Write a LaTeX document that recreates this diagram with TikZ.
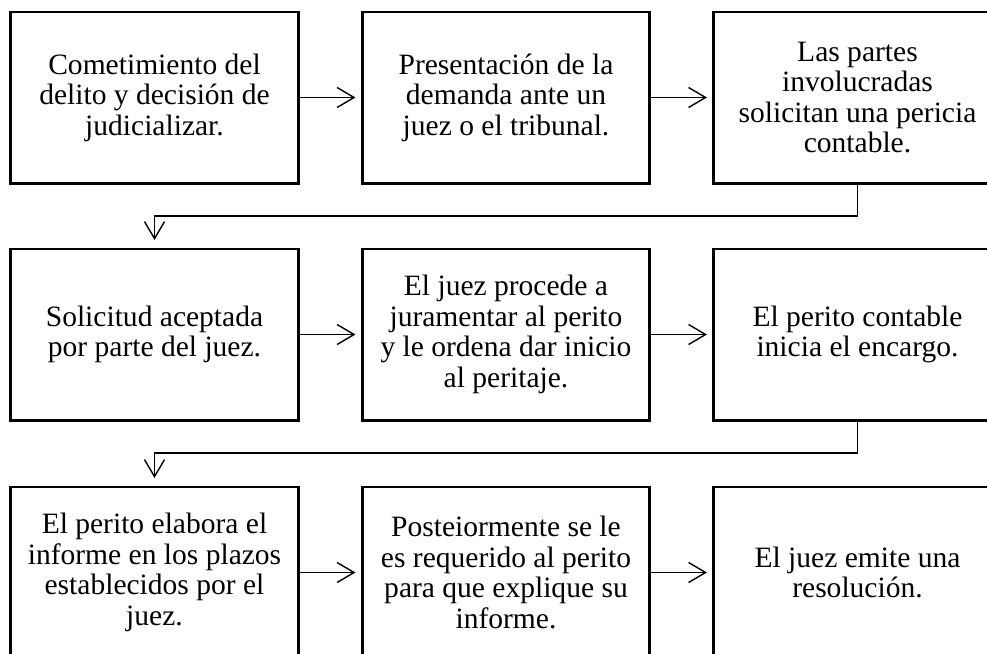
\documentclass[tikz,border=0pt]{standalone}
\usepackage{fontspec}
\setmainfont{Liberation Serif}
\usetikzlibrary{arrows.meta}

\begin{document}
\begin{tikzpicture}[x=0.025cm,y=-0.025cm,
	caja/.style={draw,line width=2.1pt,inner sep=0,outer sep=0,minimum width=7.175cm,minimum height=4.275cm,align=center,font=\fontsize{21}{21.7}\selectfont},
	flecha/.style={line width=1pt,-{Straight Barb[length=0.425cm,width=0.5cm]}}]
	\useasboundingbox (0,0) rectangle (987,653);
	\node[caja] (1) at (154.5,97.5) {Cometimiento del\\delito y decisión de\\judicializar.};
	\node[caja] (2) at (506,97.5) {Presentación de la\\demanda ante un\\juez o el tribunal.};
	\node[caja] (3) at (857.5,97.5) {Las partes\\involucradas\\solicitan una pericia\\contable.};
	\node[caja] (4) at (154.5,334.5) {Solicitud aceptada\\por parte del juez.};
	\node[caja] (5) at (506,334.5) {El juez procede a\\juramentar al perito\\y le ordena dar inicio\\al peritaje.};
	\node[caja] (6) at (857.5,334.5) {El perito contable\\inicia el encargo.};
	\node[caja] (7) at (154.5,572.5) {El perito elabora el\\informe en los plazos\\establecidos por el\\juez.};
	\node[caja] (8) at (506,572.5) {Posteiormente se le\\es requerido al perito\\para que explique su\\informe.};
	\node[caja] (9) at (857.5,572.5) {El juez emite una\\resolución.};
	\draw[flecha,shorten >=0.175cm] (1) -- (2);
	\draw[flecha,shorten >=0.175cm] (2) -- (3);
	\draw[flecha,shorten >=0.225cm] (3.south) -- ++(0,33) -| (4.north);
	\draw[flecha,shorten >=0.175cm] (4) -- (5);
	\draw[flecha,shorten >=0.175cm] (5) -- (6);
	\draw[flecha,shorten >=0.225cm] (6.south) -- ++(0,33) -| (7.north);
	\draw[flecha,shorten >=0.175cm] (7) -- (8);
	\draw[flecha,shorten >=0.175cm] (8) -- (9);
\end{tikzpicture}
\end{document}
